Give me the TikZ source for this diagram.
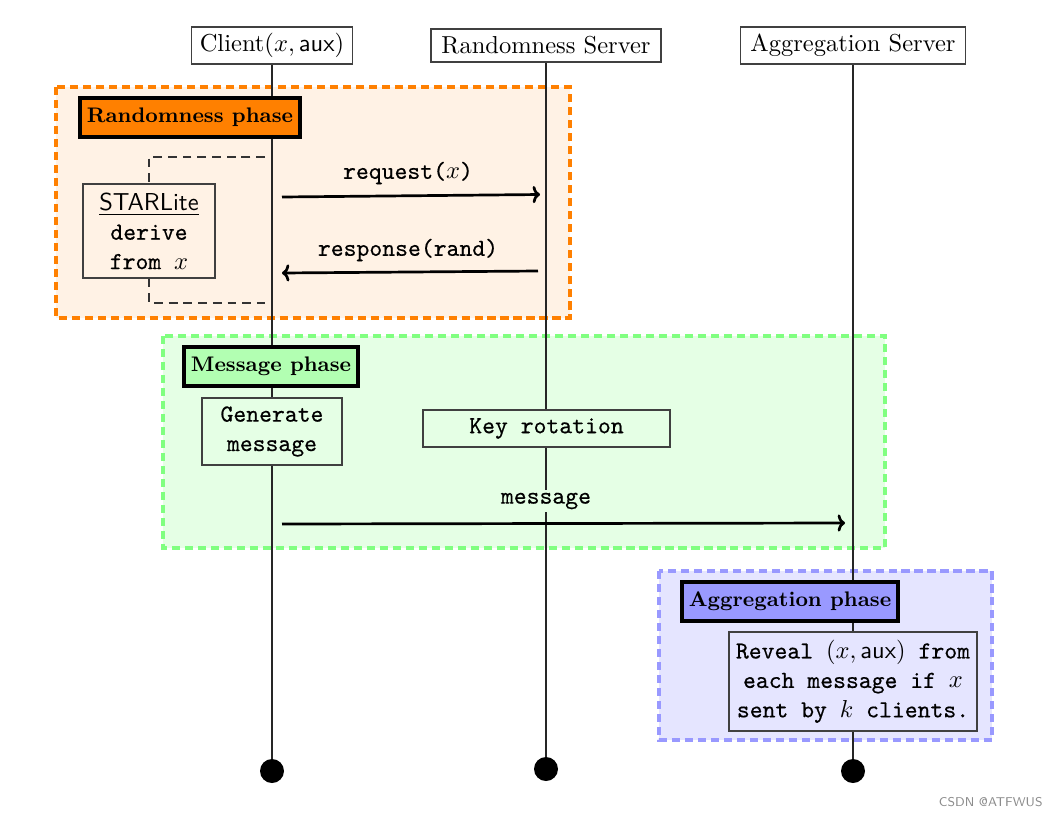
\documentclass[tikz,border=0pt]{standalone}
\usepackage{fontspec}
\setmonofont{lmmono10-regular.otf}[FakeBold=0.45]
\usetikzlibrary{backgrounds,arrows.meta}
\def\pp{0.408pt}
\begin{document}
\begin{tikzpicture}[x=0.408pt,y=-0.408pt,
 box/.style={draw=black!75, line width=0.5pt, inner sep=0pt, align=center, font=\ttfamily},
 hdr/.style={draw=black!75, fill=white, line width=0.5pt, inner sep=0pt},
 phlab/.style={draw=black, line width=1.4pt, inner sep=0pt, minimum height=39*\pp, font=\fontsize{8.6}{10}\selectfont\bfseries},
 phase/.style={line width=1.35pt, dash pattern=on 3.3pt off 2pt},
 life/.style={black!85, line width=0.45pt},
 msg/.style={line width=1.1pt, -{To[length=3pt,width=7pt]}},
 lbl/.style={font=\ttfamily, inner sep=1pt},
 brk/.style={black!80, line width=0.5pt, dash pattern=on 3.6pt off 2.4pt},
 dot/.style={circle, fill=black, inner sep=0pt, minimum size=24*\pp}]
\useasboundingbox (0,0) rectangle (1058,816);

% headers
\node[hdr, minimum width=161*\pp, minimum height=37*\pp] (client) at (272,45.5) {Client$(x,\textsf{aux})$};
\node[hdr, minimum width=230*\pp, minimum height=33*\pp] (rsrv) at (546,45.5) {Randomness Server};
\node[hdr, minimum width=225*\pp, minimum height=37*\pp] (asrv) at (853,45.5) {Aggregation Server};

% end dots
\node[dot] (cdot) at (272,771) {};
\node[dot] (rdot) at (546,769) {};
\node[dot] (adot) at (853,771) {};

% phase labels
\node[phlab, fill=orange, minimum width=220*\pp] (rlab) at (190,117.5) {Randomness phase};
\node[phlab, fill=green!30, minimum width=174*\pp] (mlab) at (271,366.5) {Message phase};
\node[phlab, fill=blue!40, minimum width=216*\pp] (alab) at (790,601.5) {Aggregation phase};

% boxes
\node[box, fill=orange!10, minimum width=132*\pp, minimum height=94*\pp] (starl) at (149,231)
  {\underline{\textsf{STARLite}}\\derive\\from $x$};
\node[box, fill=green!10, minimum width=140*\pp, minimum height=67*\pp] (gen) at (272,431.5)
  {Generate\\message};
\node[box, fill=green!10, minimum width=247*\pp, minimum height=37*\pp] (keyrot) at (546.5,428.5)
  {Key rotation};
\node[box, fill=blue!10, minimum width=248*\pp, minimum height=99*\pp] (reveal) at (853,681.5)
  {Reveal $(x,\textsf{aux})$ from\\each message if $x$\\sent by $k$ clients.};

% message labels
\node[lbl] (reqlab) at (408,173) {request($x$)};
\node[lbl] (resplab) at (408,250) {response(rand)};
\node[lbl, fill=green!10] (msglab) at (546,501) {message};

% coordinates for arrows
\coordinate (reqA) at (282,197);
\coordinate (reqB) at (540,194.5);
\coordinate (respA) at (538,271);
\coordinate (respB) at (282,273);
\coordinate (msgA) at (282,524);
\coordinate (msgB) at (845,523);

% bracket corners
\coordinate (bt1) at (265,157);
\coordinate (bt2) at (149,157);
\coordinate (bb1) at (149,303);
\coordinate (bb2) at (265,303);

\begin{pgfonlayer}{background}
  \draw[phase, draw=orange, fill=orange!10] (56,87) rectangle (570,318);
  \draw[phase, draw=green!50, fill=green!10] (163,336) rectangle (885,548);
  \draw[phase, draw=blue!40, fill=blue!10] (659,571) rectangle (992,740);
  \draw[life] (client.south) -- (cdot.center);
  \draw[life] (rsrv.south) -- (rdot.center);
  \draw[life] (asrv.south) -- (adot.center);
\end{pgfonlayer}

% bracket
\draw[brk] (bt1) -- (bt2) -- (starl.north);
\draw[brk] (starl.south) -- (bb1) -- (bb2);

% arrows
\draw[msg] (reqA) -- (reqB);
\draw[msg] (respA) -- (respB);
\draw[msg] (msgA) -- (msgB);

% watermark
\node[text=black!45, font=\fontsize{5.2}{6}\selectfont\sffamily, anchor=east, inner sep=0pt] (wm) at (1043,802) {CSDN @ATFWUS};
\end{tikzpicture}
\end{document}
